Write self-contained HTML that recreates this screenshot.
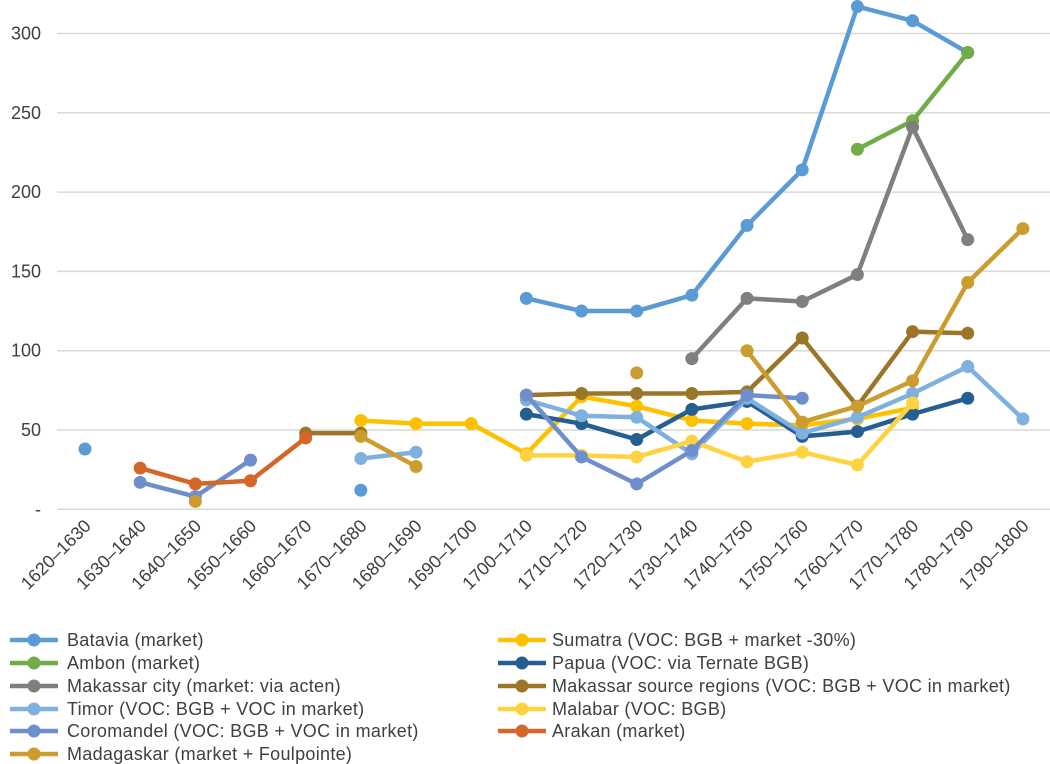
<!DOCTYPE html>
<html><head><meta charset="utf-8">
<style>
html,body{margin:0;padding:0;background:#fff;}
svg{display:block;font-family:"Liberation Sans",Arial,sans-serif;}
</style></head>
<body>
<svg id="chart" width="1050" height="764" viewBox="0 0 1050 764" xmlns="http://www.w3.org/2000/svg">
<g id="grid"></g>
<g id="yaxis"></g>
<g id="xaxis"></g>
<g id="series"></g>
<g id="legend"></g>
</svg>
<script>
const categories = ["1620–1630","1630–1640","1640–1650","1650–1660","1660–1670","1670–1680","1680–1690","1690–1700","1700–1710","1710–1720","1720–1730","1730–1740","1740–1750","1750–1760","1760–1770","1770–1780","1780–1790","1790–1800"];
const yTicks = [0,50,100,150,200,250,300];
const yTickLabels = ["-","50","100","150","200","250","300"];
const seriesNames = ["Batavia (market)","Sumatra (VOC: BGB + market -30%)","Ambon (market)","Papua (VOC: via Ternate BGB)","Makassar city (market: via acten)","Makassar source regions (VOC: BGB + VOC in market)","Timor (VOC: BGB + VOC in market)","Malabar (VOC: BGB)","Coromandel (VOC: BGB + VOC in market)","Arakan (market)","Madagaskar (market + Foulpointe)"];
const seriesColors = ["#5B9BD5","#FFC000","#70AD47","#255E91","#7F7F7F","#9C7628","#7FB1DF","#FFD23F","#6E8FCB","#D4662A","#CB9C2E"];
const batavia   = [38,null,null,null,null,12,null,null,133,125,125,135,179,214,317,308,288,null];
const sumatra   = [null,null,null,null,null,56,54,54,35,71,65,56,54,53,57,64,null,null];
const ambon     = [null,null,null,null,null,null,null,null,null,null,null,null,null,null,227,245,288,null];
const papua     = [null,null,null,null,null,null,null,null,60,54,44,63,68,46,49,60,70,null];
const makCity   = [null,null,null,null,null,null,null,null,null,null,null,95,133,131,148,241,170,null];
const makSource = [null,null,null,null,48,48,null,null,72,73,73,73,74,108,65,112,111,null];
const timor     = [null,null,null,null,null,32,36,null,69,59,58,35,70,48,58,73,90,57];
const malabar   = [null,null,null,null,null,null,null,null,34,34,33,43,30,36,28,67,null,null];
const coromandel= [null,17,8,31,null,null,null,null,72,33,16,37,72,70,null,null,null,null];
const arakan    = [null,26,16,18,45,null,null,null,null,null,null,null,null,null,null,null,null,null];
const madagaskar= [null,null,5,null,null,46,27,null,null,null,86,null,100,55,65,81,143,177];
const seriesData = [batavia,sumatra,ambon,papua,makCity,makSource,timor,malabar,coromandel,arakan,madagaskar];

const NS="http://www.w3.org/2000/svg";
const X0=85, DX=55.17, Y0=509.3, PPU=79.3/50;
function xPos(i){return X0+DX*i;}
function yPos(v){return Y0-v*PPU;}
function mk(tag,attrs,parent){const e=document.createElementNS(NS,tag);for(const k in attrs)e.setAttribute(k,attrs[k]);parent.appendChild(e);return e;}

const grid=document.getElementById('grid'), yax=document.getElementById('yaxis'), xax=document.getElementById('xaxis');
yTicks.forEach((t,i)=>{
  const l=mk('line',{x1:57,x2:1050,y1:yPos(t),y2:yPos(t),stroke:'#D9D9D9','stroke-width':1.5},grid);
  
  
  const tx=mk('text',{x:41,y:yPos(t)+6,'text-anchor':'end','font-size':18,fill:'#404040'},yax);
  tx.textContent=yTickLabels[i];
  
  
});
categories.forEach((c,i)=>{
  const x=xPos(i)+7, y=527;
  const tx=mk('text',{x:x,y:y,'text-anchor':'end','font-size':18,fill:'#404040',transform:`rotate(-45 ${x} ${y})`},xax);
  tx.textContent=c;
  
  
});

const sg=document.getElementById('series');
seriesData.forEach((arr,s)=>{
  const g=mk('g',{},sg);
  
  
  let seg=[];
  const flush=()=>{ if(seg.length>1){ const p=mk('polyline',{points:seg.map(q=>q.join(',')).join(' '),fill:'none',stroke:seriesColors[s],'stroke-width':4.5,'stroke-linejoin':'round','stroke-linecap':'round'},g);
      
       } seg=[]; };
  arr.forEach((v,i)=>{ if(v===null){flush();return;} seg.push([xPos(i),yPos(v)]); });
  flush();
  arr.forEach((v,i)=>{ if(v===null)return;
    const c=mk('circle',{cx:xPos(i),cy:yPos(v),r:6.5,fill:seriesColors[s]},g);
    
    
  });
});

const lg=document.getElementById('legend');
const rowY=[640,663,686,709,731,754];
seriesNames.forEach((n,i)=>{
  const col=i%2, row=Math.floor(i/2);
  const lx=col===0?10:498, y=rowY[row];
  const g=mk('g',{},lg);
  
  
  mk('line',{x1:lx,x2:lx+48,y1:y,y2:y,stroke:seriesColors[i],'stroke-width':4.5},g);
  mk('circle',{cx:lx+24,cy:y,r:6.5,fill:seriesColors[i]},g);
  const t=mk('text',{x:col===0?67:552,y:y+6,'font-size':18,'letter-spacing':0.3,fill:'#404040'},g);
  t.textContent=n;
});
</script>
</body></html>
